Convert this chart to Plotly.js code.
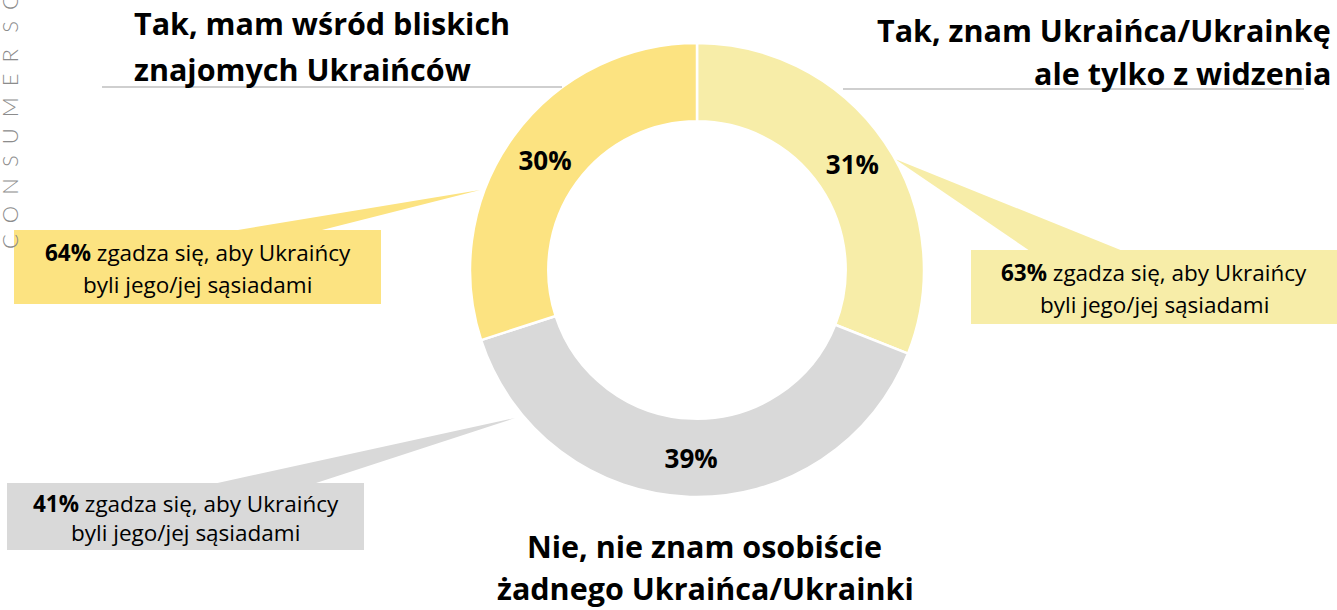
<!DOCTYPE html>
<html>
<head>
<meta charset="utf-8">
<script src="https://cdn.plot.ly/plotly-3.0.1.min.js"></script>
<style>html,body{margin:0;padding:0;background:#fff;}#chart{width:1337px;height:610px;}</style>
</head>
<body>
<div id="chart"></div>
<script>
// ---- data ----
const categories = [
  'Tak, znam Ukraińca/Ukrainkę ale tylko z widzenia',
  'Nie, nie znam osobiście żadnego Ukraińca/Ukrainki',
  'Tak, mam wśród bliskich znajomych Ukraińców'
];
const shares = [31, 39, 30];
const agreeShares = [63, 41, 64];
const titleLines = [
  ['Tak, znam Ukraińca/Ukrainkę', 'ale tylko z widzenia'],
  ['Nie, nie znam osobiście', 'żadnego Ukraińca/Ukrainki'],
  ['Tak, mam wśród bliskich', 'znajomych Ukraińców']
];
const agreeText = 'zgadza się, aby Ukraińcy';
const agreeText2 = 'byli jego/jej sąsiadami';
const watermark = 'CONSUMER SCIENCE';

// ---- styles / layout helpers ----
const W = 1337, H = 610;
const FONT = '"Open Sans", sans-serif';
const sliceColors = ['#F7EDA8', '#D9D9D9', '#FCE381'];
const px = x => x / W;
const py = y => 1 - y / H;

const trace = {
  type: 'pie',
  labels: categories,
  values: shares,
  sort: false,
  direction: 'clockwise',
  rotation: 0,
  hole: 0.655,
  domain: {x: [px(470), px(924)], y: [py(497), py(43)]},
  marker: {colors: sliceColors, line: {color: '#FFFFFF', width: 2.5}},
  texttemplate: '<b>%{value}%</b>',
  textposition: 'inside',
  insidetextorientation: 'horizontal',
  textfont: {family: FONT, size: 26, color: '#000000'},
  hoverinfo: 'none',
  showlegend: false
};

function ann(text, x, y, xanchor, size, opts) {
  return Object.assign({
    text: text, x: px(x), y: py(y), xref: 'paper', yref: 'paper',
    xanchor: xanchor, yanchor: 'middle', showarrow: false,
    font: {family: FONT, size: size, color: '#000000'}
  }, opts || {});
}

// callout boxes: [x0, y0, x1, y1], pointer triangle [baseL, baseR, tip]
const boxes = [
  {i: 0, rect: [971, 250, 1337, 324], tri: [[1030, 251], [1123, 251], [895, 159]]},
  {i: 1, rect: [7, 483, 364, 550], tri: [[213, 484], [313, 484], [515, 418]]},
  {i: 2, rect: [14, 230, 381, 304], tri: [[232, 231], [318, 231], [480, 190]]}
];

const shapes = [];
const annotations = [];
boxes.forEach(b => {
  const c = sliceColors[b.i];
  const [x0, y0, x1, y1] = b.rect;
  shapes.push({type: 'rect', xref: 'paper', yref: 'paper', x0: px(x0), x1: px(x1), y0: py(y1), y1: py(y0),
    fillcolor: c, line: {width: 0}, layer: 'below'});
  const t = b.tri;
  shapes.push({type: 'path', xref: 'paper', yref: 'paper', layer: 'below', fillcolor: c, line: {width: 0},
    path: `M ${px(t[0][0])} ${py(t[0][1])} L ${px(t[2][0])} ${py(t[2][1])} L ${px(t[1][0])} ${py(t[1][1])} Z`});
  const cx = (x0 + x1) / 2;
  const h = y1 - y0;
  annotations.push(ann(`<b>${agreeShares[b.i]}%</b> ${agreeText}`, cx, y0 + h * 0.30, 'center', 22.5));
  annotations.push(ann(agreeText2, cx, y0 + h * 0.74, 'center', 22.5));
});

// title separator lines
shapes.push({type: 'line', xref: 'paper', yref: 'paper', x0: px(102), x1: px(562), y0: py(87), y1: py(87), line: {color: '#BFBFBF', width: 1.5}});
shapes.push({type: 'line', xref: 'paper', yref: 'paper', x0: px(843), x1: px(1304), y0: py(89), y1: py(89), line: {color: '#BFBFBF', width: 1.5}});

// category titles
const TS = 30.5;
annotations.push(ann('<b>' + titleLines[2][0] + '</b>', 132, 23, 'left', TS));
annotations.push(ann('<b>' + titleLines[2][1] + '</b>', 132, 69, 'left', TS));
annotations.push(ann('<b>' + titleLines[0][0] + '</b>', 1333, 30, 'right', TS));
annotations.push(ann('<b>' + titleLines[0][1] + '</b>', 1333, 73, 'right', TS));
annotations.push(ann('<b>' + titleLines[1][0] + '</b>', 704, 546, 'center', TS));
annotations.push(ann('<b>' + titleLines[1][1] + '</b>', 705, 588, 'center', TS));

// vertical watermark
annotations.push({
  text: watermark.split(' ').map(w => w.split('').join('\u2002')).join('\u2003'),
  x: px(9), y: py(251), xref: 'paper', yref: 'paper', xanchor: 'center', yanchor: 'bottom',
  textangle: -90, showarrow: false,
  font: {family: 'Lato, sans-serif', size: 22, color: '#8C8C8C', weight: 300}
});

const layout = {
  width: W, height: H,
  margin: {l: 0, r: 0, t: 0, b: 0},
  paper_bgcolor: '#FFFFFF', plot_bgcolor: '#FFFFFF',
  showlegend: false,
  shapes: shapes,
  annotations: annotations
};

Plotly.newPlot('chart', [trace], layout, {displayModeBar: false, staticPlot: true});
</script>
</body>
</html>
